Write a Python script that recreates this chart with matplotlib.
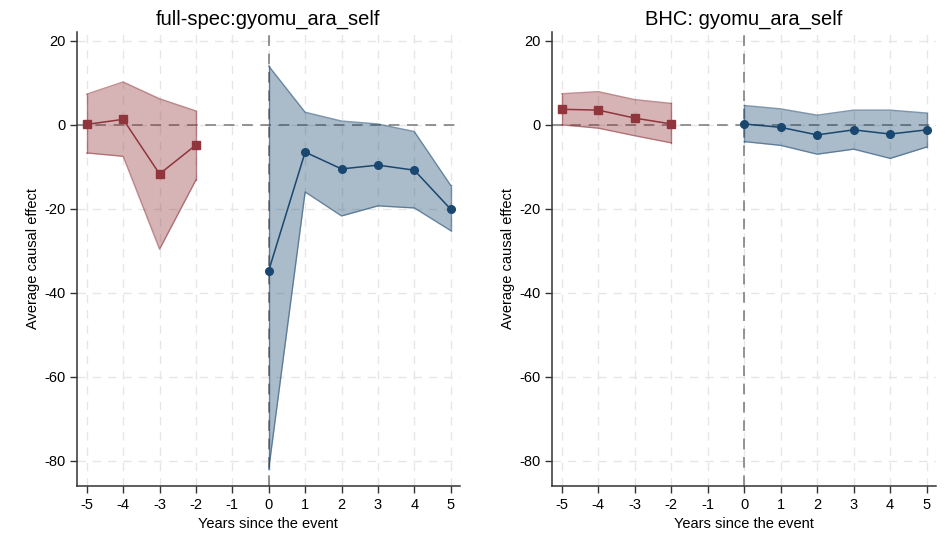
import matplotlib
matplotlib.use('Agg')
import matplotlib.pyplot as plt
import numpy as np

plt.rcParams['font.family'] = ['Liberation Sans', 'DejaVu Sans']
plt.rcParams['axes.unicode_minus'] = False

# event time
pre_years = [-5, -4, -3, -2]
post_years = [0, 1, 2, 3, 4, 5]

# full-spec panel
fs_pre_est = [0.1, 1.3, -11.7, -4.8]
fs_pre_lo = [-6.7, -7.5, -29.6, -13.1]
fs_pre_hi = [7.3, 10.2, 6.2, 3.3]
fs_post_est = [-34.7, -6.5, -10.5, -9.6, -10.8, -20.1]
fs_post_lo = [-82.0, -16.0, -21.7, -19.3, -19.8, -25.2]
fs_post_hi = [14.0, 3.0, 0.9, 0.2, -1.6, -14.4]

# BHC panel
bhc_pre_est = [3.7, 3.5, 1.6, 0.2]
bhc_pre_lo = [0.0, -0.8, -2.6, -4.3]
bhc_pre_hi = [7.4, 7.9, 6.0, 5.1]
bhc_post_est = [0.2, -0.6, -2.4, -1.2, -2.2, -1.2]
bhc_post_lo = [-4.0, -4.9, -7.0, -5.8, -8.0, -5.3]
bhc_post_hi = [4.6, 3.8, 2.3, 3.5, 3.5, 2.8]

RED = '#90353B'
BLUE = '#1A476F'


def draw_band(ax, years, est, lo, hi, color, marker, msize):
    ax.fill_between(years, lo, hi, color=color, alpha=0.37, linewidth=0, zorder=2)
    ax.plot(years, lo, color=color, alpha=0.55, linewidth=1.0, zorder=2)
    ax.plot(years, hi, color=color, alpha=0.55, linewidth=1.0, zorder=2)
    ax.plot([years[0]] * 2, [lo[0], hi[0]], color=color, alpha=0.55, linewidth=1.0, zorder=2)
    ax.plot([years[-1]] * 2, [lo[-1], hi[-1]], color=color, alpha=0.55, linewidth=1.0, zorder=2)
    ax.plot(years, est, color=color, marker=marker, markersize=msize, linewidth=1.1, zorder=4)


def draw_panel(ax, title, pre, post):
    ax.grid(True, color='#e6e6e6', linestyle=(0, (6, 5)), linewidth=1.0)
    ax.set_axisbelow(True)
    ax.axhline(0, color='#777777', linestyle=(0, (7, 5)), linewidth=1.1, zorder=1)
    ax.axvline(0, color='#777777', linestyle=(0, (7, 5)), linewidth=1.1, zorder=1)

    draw_band(ax, pre_years, *pre, RED, 's', 6)
    draw_band(ax, post_years, *post, BLUE, 'o', 5.5)

    ax.set_xlim(-5.27, 5.25)
    ax.set_ylim(-86, 22.1)
    ax.set_xticks(range(-5, 6))
    ax.set_yticks([20, 0, -20, -40, -60, -80])
    ax.tick_params(labelsize=10.5, length=5, width=1, color='#333333')
    for side in ['top', 'right']:
        ax.spines[side].set_visible(False)
    for side in ['left', 'bottom']:
        ax.spines[side].set_color('#333333')
        ax.spines[side].set_linewidth(1.1)
    ax.set_xlabel('Years since the event', fontsize=10.5, labelpad=4)
    ax.set_ylabel('Average causal effect', fontsize=10.5, labelpad=3)
    ax.set_title(title, fontsize=14.5, pad=5)


fig = plt.figure(figsize=(9.5, 5.36), dpi=100)
ax1 = fig.add_axes([0.081, 0.0933, 0.403, 0.847])
ax2 = fig.add_axes([0.581, 0.0933, 0.404, 0.847])

draw_panel(ax1, 'full-spec:gyomu_ara_self',
           (fs_pre_est, fs_pre_lo, fs_pre_hi),
           (fs_post_est, fs_post_lo, fs_post_hi))
draw_panel(ax2, 'BHC: gyomu_ara_self',
           (bhc_pre_est, bhc_pre_lo, bhc_pre_hi),
           (bhc_post_est, bhc_post_lo, bhc_post_hi))

fig.savefig('out.png', dpi=100)
